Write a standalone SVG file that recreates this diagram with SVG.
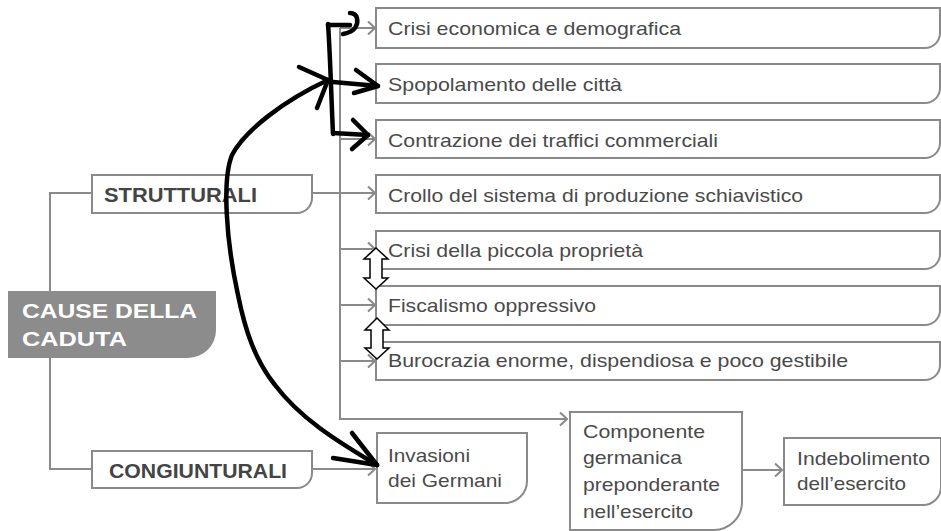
<svg xmlns="http://www.w3.org/2000/svg" width="941" height="531" viewBox="0 0 941 531">
<style>
.box{fill:#fff;stroke:#8a8a8a;stroke-width:2}
.dark{fill:#8c8c8c;stroke:none}
.t{font-family:"Liberation Sans",Arial,sans-serif;font-size:18.5px;fill:#4a4a4a}
.b{font-family:"Liberation Sans",Arial,sans-serif;font-size:21px;font-weight:bold;fill:#444}
.w{font-family:"Liberation Sans",Arial,sans-serif;font-size:21px;font-weight:bold;fill:#fff}
.ln{fill:none;stroke:#8a8a8a;stroke-width:2}
.hand{fill:none;stroke:#000;stroke-width:4.5;stroke-linecap:round;stroke-linejoin:round}
.dbl{fill:#fff;stroke:#000;stroke-width:1.5;stroke-linejoin:miter}
</style>
<defs>
<marker id="chev" viewBox="-9 -8 10 16" markerWidth="10" markerHeight="16" refX="0" refY="0" orient="auto" markerUnits="userSpaceOnUse">
<path d="M-7,-6.5 L0,0 L-7,6.5" fill="none" stroke="#8a8a8a" stroke-width="2"/>
</marker>
</defs>
<rect width="941" height="531" fill="#fff"/>

<g id="connectors">
<path class="ln" d="M92,193 H50 V291"/>
<path class="ln" d="M50,358 V469 H92"/>
<path class="ln" d="M340,28 V419 H567" marker-end="url(#chev)"/>
<path class="ln" d="M340,28 H375" marker-end="url(#chev)"/>
<path class="ln" d="M340,84 H375" marker-end="url(#chev)"/>
<path class="ln" d="M340,139 H375" marker-end="url(#chev)"/>
<path class="ln" d="M312,193 H375" marker-end="url(#chev)"/>
<path class="ln" d="M340,249 H375" marker-end="url(#chev)"/>
<path class="ln" d="M340,305 H375" marker-end="url(#chev)"/>
<path class="ln" d="M340,361 H375" marker-end="url(#chev)"/>
<path class="ln" d="M312,469 H375" marker-end="url(#chev)"/>
<path class="ln" d="M742,470 H782" marker-end="url(#chev)"/>
</g>

<g id="cause">
<path class="dark" d="M8,291 H216 V330 A28,28 0 0 1 188,358 H8 Z"/>
<text class="w" x="22" y="318" textLength="175" lengthAdjust="spacingAndGlyphs">CAUSE DELLA</text>
<text class="w" x="22" y="346" textLength="105" lengthAdjust="spacingAndGlyphs">CADUTA</text>
</g>
<g id="strutturali">
<path class="box" d="M92,175 H312 V198 A15,15 0 0 1 297,213 H92 Z"/>
<text class="b" x="104" y="202" textLength="153" lengthAdjust="spacingAndGlyphs">STRUTTURALI</text>
</g>
<g id="congiunturali">
<path class="box" d="M92,451 H312 V473 A15,15 0 0 1 297,488 H92 Z"/>
<text class="b" x="109" y="478" textLength="178" lengthAdjust="spacingAndGlyphs">CONGIUNTURALI</text>
</g>

<g id="n1">
<path class="box" d="M376,8 H940 V33 A15,15 0 0 1 925,48 H376 Z"/>
<text class="t" x="388" y="35" textLength="293" lengthAdjust="spacingAndGlyphs">Crisi economica e demografica</text>
</g>
<g id="n2">
<path class="box" d="M376,64 H940 V88 A15,15 0 0 1 925,103 H376 Z"/>
<text class="t" x="388" y="91" textLength="234" lengthAdjust="spacingAndGlyphs">Spopolamento delle città</text>
</g>
<g id="n3">
<path class="box" d="M376,120 H940 V143 A15,15 0 0 1 925,158 H376 Z"/>
<text class="t" x="388" y="147" textLength="330" lengthAdjust="spacingAndGlyphs">Contrazione dei traffici commerciali</text>
</g>
<g id="n4">
<path class="box" d="M376,175 H940 V198 A15,15 0 0 1 925,213 H376 Z"/>
<text class="t" x="388" y="202" textLength="415" lengthAdjust="spacingAndGlyphs">Crollo del sistema di produzione schiavistico</text>
</g>
<g id="n5">
<path class="box" d="M376,231 H940 V254 A15,15 0 0 1 925,269 H376 Z"/>
<text class="t" x="388" y="257" textLength="255" lengthAdjust="spacingAndGlyphs">Crisi della piccola proprietà</text>
</g>
<g id="n6">
<path class="box" d="M376,286 H940 V310 A15,15 0 0 1 925,325 H376 Z"/>
<text class="t" x="388" y="312" textLength="208" lengthAdjust="spacingAndGlyphs">Fiscalismo oppressivo</text>
</g>
<g id="n7">
<path class="box" d="M376,342 H940 V365 A15,15 0 0 1 925,380 H376 Z"/>
<text class="t" x="388" y="367" textLength="460" lengthAdjust="spacingAndGlyphs">Burocrazia enorme, dispendiosa e poco gestibile</text>
</g>
<g id="invasioni">
<path class="box" d="M377,433 H527 V481 A22,22 0 0 1 505,503 H377 Z"/>
<text class="t" x="388" y="462" textLength="82" lengthAdjust="spacingAndGlyphs">Invasioni</text>
<text class="t" x="388" y="487" textLength="114" lengthAdjust="spacingAndGlyphs">dei Germani</text>
</g>
<g id="componente">
<path class="box" d="M570,412 H742 V502 A28,28 0 0 1 714,530 H570 Z"/>
<text class="t" x="583" y="438" textLength="122" lengthAdjust="spacingAndGlyphs">Componente</text>
<text class="t" x="583" y="464" textLength="99" lengthAdjust="spacingAndGlyphs">germanica</text>
<text class="t" x="583" y="491" textLength="137" lengthAdjust="spacingAndGlyphs">preponderante</text>
<text class="t" x="583" y="518" textLength="110" lengthAdjust="spacingAndGlyphs">nell’esercito</text>
</g>
<g id="indebolimento">
<path class="box" d="M784,438 H941 V487 A18,18 0 0 1 923,505 H784 Z"/>
<text class="t" x="797" y="465" textLength="133" lengthAdjust="spacingAndGlyphs">Indebolimento</text>
<text class="t" x="797" y="490" textLength="109" lengthAdjust="spacingAndGlyphs">dell’esercito</text>
</g>

<g id="annotations">
<path class="hand" d="M328,24 C330,50 331,90 333,134"/>
<path class="hand" d="M328,25 H350"/>
<path class="hand" d="M350,13 C358,13 359,22 355,28 C352,32 348,33 343,34"/>
<path class="hand" d="M333,82 L378,86"/>
<path class="hand" d="M356,70 L378,86 L354,93"/>
<path class="hand" d="M333,133 L368,135"/>
<path class="hand" d="M353,120 L368,135 L352,149"/>
<path class="hand" d="M328,80 C285,100 245,130 232,155 C222,180 226,240 238,295 C245,330 255,360 275,385 C300,418 335,440 377,465"/>
<path class="hand" d="M299,67 L328,80 L317,108"/>
<path class="hand" d="M352,433 L377,465 L333,458"/>
<polygon class="dbl" points="376,248 388,259 382,259 382,278 388,278 376,289 364,278 370,278 370,259 364,259"/>
<polygon class="dbl" points="377,318 389,330 383,330 383,348 389,348 377,359 365,348 371,348 371,330 365,330"/>
</g>
</svg>
